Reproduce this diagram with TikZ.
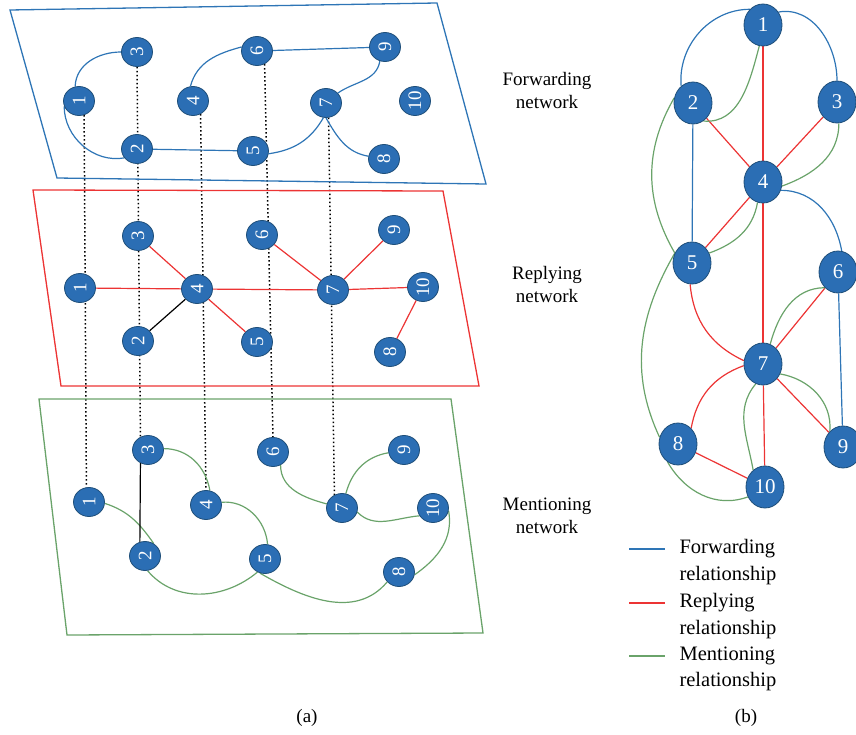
\documentclass[tikz,border=0pt]{standalone}
\usepackage{fontspec}
\usepackage{graphicx}
\setmainfont{Liberation Serif}
\usetikzlibrary{shapes.geometric,backgrounds}
\definecolor{nodeblue}{RGB}{43,110,180}
\definecolor{nodeborder}{RGB}{30,78,121}
\definecolor{fwd}{RGB}{46,117,182}
\definecolor{rep}{RGB}{236,52,52}
\definecolor{men}{RGB}{106,163,106}
\tikzset{
  lnodestyle/.style={ellipse, fill=nodeblue, draw=nodeborder, line width=0.8pt,
    minimum width=31pt, minimum height=29pt, inner sep=0pt, text=white,
    font=\fontsize{19}{19}\selectfont},
  rnodestyle/.style={ellipse, fill=nodeblue, draw=nodeborder, line width=0.8pt,
    minimum width=38pt, minimum height=42pt, inner sep=0pt, text=white,
    font=\fontsize{21}{21}\selectfont},
  fedge/.style={draw=fwd, line width=1.2pt},
  redge/.style={draw=rep, line width=1.2pt},
  medge/.style={draw=men, line width=1.2pt},
  bedge/.style={draw=black, line width=1.2pt},
  vlink/.style={draw=black, line width=1.5pt, dash pattern=on 1.5pt off 2.5pt},
  plane/.style={line width=1.3pt},
  lbl/.style={align=center, font=\fontsize{19}{23}\selectfont},
  legtext/.style={anchor=west, align=left, font=\fontsize{20.5}{26.5}\selectfont},
  captext/.style={font=\fontsize{19}{19}\selectfont}
}
\newcommand{\LN}[4]{\node[lnodestyle] (#1) at (#2,-#3) {\rotatebox{90}{#4}};}
\newcommand{\RN}[4]{\node[rnodestyle] (#1) at (#2,-#3) {#4};}
\begin{document}
\begin{tikzpicture}[x=1pt,y=1pt]
\useasboundingbox (0,0) rectangle (856,-735);
% ---------- planes
\draw[plane, fwd] (10,-10) -- (437,-3) -- (486,-184) -- (57,-178) -- cycle;
\draw[plane, rep] (33,-190) -- (443,-191) -- (479,-386) -- (61,-386) -- cycle;
\draw[plane, men] (39,-399) -- (451,-399) -- (483,-633) -- (67,-635) -- cycle;
% ---------- top layer nodes
\LN{t1}{79}{101}{1}
\LN{t3}{137}{52}{3}
\LN{t2}{137}{149}{2}
\LN{t4}{193}{101}{4}
\LN{t6}{257}{51}{6}
\LN{t5}{253}{151}{5}
\LN{t9}{385}{47}{9}
\LN{t7}{326}{103}{7}
\LN{t10}{415}{101}{10}
\LN{t8}{384}{159}{8}
% ---------- middle layer nodes
\LN{m1}{80}{288}{1}
\LN{m3}{138}{236}{3}
\LN{m2}{138}{341}{2}
\LN{m4}{197}{289}{4}
\LN{m5}{257}{342}{5}
\LN{m6}{262}{235}{6}
\LN{m7}{333}{290}{7}
\LN{m9}{394}{230}{9}
\LN{m10}{423}{287}{10}
\LN{m8}{390}{352}{8}
% ---------- bottom layer nodes
\LN{b1}{89}{502}{1}
\LN{b3}{148}{450}{3}
\LN{b2}{145}{556}{2}
\LN{b4}{206}{505}{4}
\LN{b5}{265}{559}{5}
\LN{b6}{273}{452}{6}
\LN{b7}{342}{508}{7}
\LN{b9}{404}{450}{9}
\LN{b10}{433}{508}{10}
\LN{b8}{399}{572}{8}
% ---------- right graph nodes
\RN{r1}{763}{25}{1}
\RN{r2}{693}{103}{2}
\RN{r3}{837}{102}{3}
\RN{r4}{763}{182}{4}
\RN{r5}{692}{263}{5}
\RN{r6}{838}{272}{6}
\RN{r7}{763}{364}{7}
\RN{r8}{678}{444}{8}
\RN{r9}{843}{447}{9}
\RN{r10}{765}{487}{10}
% ---------- texts
\node[lbl] (lf) at (547,-91) {Forwarding\\network};
\node[lbl] (lr) at (547,-285) {Replying\\network};
\node[lbl] (lm) at (547,-516) {Mentioning\\network};
\node[captext] (ca) at (307,-718) {(a)};
\node[captext] (cb) at (746,-718) {(b)};
\node[legtext] (tf) at (676,-562) {Forwarding\\relationship};
\node[legtext] (tr) at (676,-616) {Replying\\relationship};
\node[legtext] (tm) at (676,-669) {Mentioning\\relationship};
\coordinate (f1) at (629,-549); \coordinate (f2) at (665,-549);
\coordinate (e1) at (629,-603); \coordinate (e2) at (665,-603);
\coordinate (g1) at (629,-656); \coordinate (g2) at (665,-656);
\draw[fedge] (f1) -- (f2);
\draw[redge] (e1) -- (e2);
\draw[medge] (g1) -- (g2);
% ---------- edges (behind nodes)
\begin{pgfonlayer}{background}
% vertical dotted links
\draw[vlink] (t1.-70) -- (b1.100);
\draw[vlink] (t3.-90) -- (b3.120);
\draw[vlink] (t4.-60) -- (b4.north);
\draw[vlink] (t6.-60) -- (b6.north);
\draw[vlink] (t7.-80) -- (b7.120);
% top layer: forwarding
\draw[fedge] (t1.105) to[out=88,in=180] (t3.west);
\draw[fedge] (t1.200) to[out=-90,in=190] (t2.215);
\draw[fedge] (t2) -- (t5);
\draw[fedge] (t4.100) to[out=75,in=195] (t6.165);
\draw[fedge] (t6) -- (t9);
\draw[fedge] (t9.-110) to[out=-100,in=35] (t7.40);
\draw[fedge] (t7.-100) to[out=-120,in=8] (t5.-10);
\draw[fedge] (t7.-90) to[out=-60,in=170] (t8.170);
% middle layer: replying
\draw[redge] (m1) -- (m4);
\draw[redge] (m3) -- (m4);
\draw[redge] (m4) -- (m5);
\draw[redge] (m4) -- (m7);
\draw[redge] (m6) -- (m7);
\draw[redge] (m7) -- (m9);
\draw[redge] (m7) -- (m10);
\draw[redge] (m10) -- (m8);
\draw[bedge] (m2) -- (m4);
% bottom layer: mentioning
\draw[medge] (b1.-5) to[out=-18,in=125] (b2.55);
\draw[bedge] (b3.-120) -- (b2.110);
\draw[medge] (b3.5) to[out=0,in=100] (b4.75);
\draw[medge] (b4.10) to[out=5,in=95] (b5.80);
\draw[medge] (b2.-80) to[out=-50,in=-140] (b5.-120);
\draw[medge] (b5.-110) to[out=-30,in=-130] (b8.-140);
\draw[medge] (b6.-60) to[out=-90,in=165] (b7.165);
\draw[medge] (b7.75) to[out=75,in=190] (b9.190);
\draw[medge] (b7.-15) to[out=-45,in=185] (b10.-150);
\draw[medge] (b10.-10) to[out=-80,in=35] (b8.-10);
% right graph
\draw[fedge] (r2.125) to[out=95,in=180] (r1.130);
\draw[fedge] (r1.40) to[out=10,in=90] (r3.north);
\draw[fedge] (r2) -- (r5);
\draw[fedge] (r4.-25) to[out=0,in=100] (r6.80);
\draw[fedge] (r6) -- (r9);
\draw[redge] (r1) -- (r4);
\draw[redge] (r2) -- (r4);
\draw[redge] (r3) -- (r4);
\draw[redge] (r4) -- (r5);
\draw[redge] (r4) -- (r7);
\draw[redge] (r6) -- (r7);
\draw[redge] (r7) -- (r9);
\draw[redge] (r7) -- (r10);
\draw[redge] (r8) -- (r10);
\draw[redge] (r5.-95) to[out=-85,in=155] (r7.170);
\draw[redge] (r7.185) to[out=200,in=80] (r8.50);
\draw[medge] (r1.-100) to[out=-105,in=-5] (r2.-60);
\draw[medge] (r3.-85) to[out=-90,in=20] (r4.-12);
\draw[medge] (r4.-105) to[out=-100,in=20] (r5.30);
\draw[medge] (r2.165) to[out=-120,in=120] (r5.150);
\draw[medge] (r5.150) to[out=-120,in=115] (r8.160);
\draw[medge] (r6.-130) to[out=180,in=75] (r7.70);
\draw[medge] (r7.-30) to[out=-10,in=85] (r9.130);
\draw[medge] (r7.-110) to[out=-130,in=100] (r10.125);
\draw[medge] (r8.-120) to[out=-60,in=-160] (r10.-150);
\end{pgfonlayer}
\end{tikzpicture}
\end{document}
